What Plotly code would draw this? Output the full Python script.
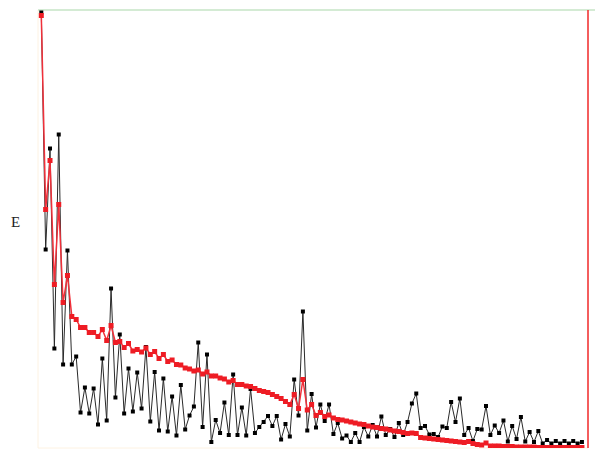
import plotly.graph_objects as go

# Bin index (1..125)
bins = list(range(1, 126))

# Measured spectrum E (black)
measured_e = [
    435.5, 198.5, 299.5, 99.5, 313.5, 83.5, 197.5, 83.5, 91.5, 35.5,
    60.5, 34.5, 59.5, 23.5, 89.5, 27.5, 159.5, 50.5, 113.5, 34.5,
    79.5, 36.5, 75.5, 39.5, 101, 26.5, 76, 17.5, 69.5, 16.5,
    51.5, 12.5, 63, 18.5, 32.5, 41.5, 105.5, 21, 93.5, 6,
    28, 15, 45.5, 13, 73.5, 13, 40.5, 12.5, 59, 15,
    21, 26, 32, 22, 32, 8.5, 24, 11.5, 68.5, 32.5,
    136.5, 17.5, 54, 20.5, 43.5, 27, 43.5, 14, 25, 9.5,
    12.5, 6, 15, 6, 21, 11.5, 23, 11.5, 31.5, 13,
    19, 11, 25, 13, 26, 44.5, 54.5, 20, 22, 13.5,
    14, 11, 21.5, 20, 46, 26, 49.5, 13, 20, 7,
    19, 18.5, 42, 13, 22.5, 15, 27.5, 6.5, 22, 9,
    31, 6.5, 16, 6, 17, 4.5, 8, 4.5, 7, 4.5,
    7, 4.5, 7, 4.5, 6,
]

# Smoothed spectrum E (red)
smoothed_e = [
    432.5, 238.5, 287.5, 163.5, 243.5, 145.5, 172.5, 131.5, 128.5, 120.5,
    120.5, 115.5, 115.5, 111.5, 118.5, 107.5, 122.5, 105.5, 106.5, 100.5,
    104.5, 97, 98.5, 96, 100, 93.5, 96.5, 89.5, 93.5, 86.5,
    88, 83.5, 83, 80, 79, 77, 78, 74, 76, 72,
    72, 70, 69, 66, 67.5, 63.5, 63.5, 62, 61.5, 59.5,
    57.5, 56.5, 55.5, 53.5, 51.5, 49.5, 46.5, 43.5, 53.5, 39.5,
    68.5, 38, 43.5, 32.5, 35.5, 31.5, 33, 30, 28.5, 28,
    27, 26, 25, 24, 23.5, 22, 21, 20.5, 19.5, 19,
    18, 17, 16.5, 15.5, 14.5, 15, 14.5, 10.5, 10, 9.5,
    9, 8.5, 8, 7.5, 7, 6.5, 6, 5.5, 6.5, 4.5,
    3.5, 3, 5, 2, 2, 2, 1.5, 1.5, 1.5, 1,
    1, 1, 1, 1, 0.5, 0.5, 0.5, 0.5, 0.5, 0.5,
    0.5, 0.5, 0.5, 0.5, 0.5,
]

fig = go.Figure()

fig.add_trace(go.Scatter(
    x=bins, y=measured_e, mode="lines+markers",
    line=dict(color="#2a2a2a", width=1),
    marker=dict(symbol="square", size=4, color="#000000", line=dict(width=0)),
    showlegend=False, hoverinfo="skip",
))

fig.add_trace(go.Scatter(
    x=bins, y=smoothed_e, mode="lines+markers",
    line=dict(color="#f0303a", width=1.5),
    marker=dict(symbol="square", size=5, color="#ee1c24", line=dict(width=0)),
    showlegend=False, hoverinfo="skip",
))

# Frame: faint left/bottom edges, green top edge, red right edge
frame = [
    dict(x0=0, x1=0, y0=0, y1=1, color="#fdf2e2", width=1),
    dict(x0=0, x1=1, y0=0, y1=0, color="#fdf2e2", width=1),
    dict(x0=0, x1=1.013, y0=1, y1=1, color="#c6e4c6", width=1.5),
    dict(x0=1, x1=1, y0=0, y1=1, color="#f02828", width=1.5),
]
for f in frame:
    fig.add_shape(type="line", xref="paper", yref="paper",
                  x0=f["x0"], x1=f["x1"], y0=f["y0"], y1=f["y1"],
                  line=dict(color=f["color"], width=f["width"]), layer="below")

fig.add_annotation(
    text="E", xref="paper", yref="paper", x=-0.0418, y=0.517,
    xanchor="center", yanchor="middle", showarrow=False,
    font=dict(family="Liberation Serif", size=15, color="#222222"),
)

fig.update_xaxes(range=[0.243, 126.39], showgrid=False, zeroline=False,
                 showticklabels=False, showline=False, ticks="")
fig.update_yaxes(range=[0, 438], showgrid=False, zeroline=False,
                 showticklabels=False, showline=False, ticks="")

fig.update_layout(
    width=595, height=450,
    margin=dict(l=38, r=7, t=10, b=2),
    plot_bgcolor="#ffffff", paper_bgcolor="#ffffff",
)

fig.write_html("out.html")
